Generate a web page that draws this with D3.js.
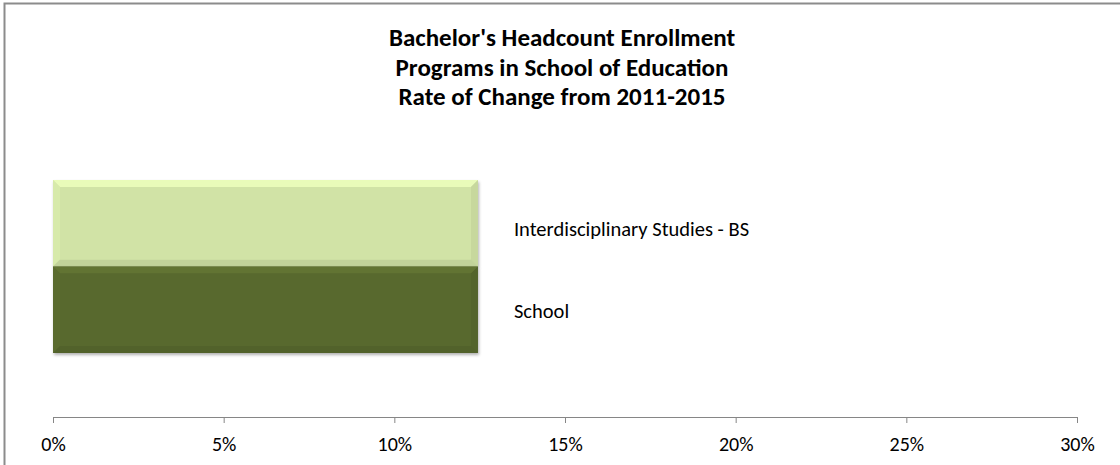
<!DOCTYPE html>
<html><head><meta charset="utf-8">
<script src="https://cdn.jsdelivr.net/npm/d3@7"></script>
<style>body{margin:0;background:#fff}svg{display:block}</style>
</head><body>
<svg id="c" width="1120" height="465"></svg>
<script>
const categories = ["Interdisciplinary Studies - BS", "School"];
const values = [0.1245, 0.1245];
const colors = ["#d1e3a6", "#58692e"];
const tickValues = [0, 0.05, 0.10, 0.15, 0.20, 0.25, 0.30];
const titleLines = ["Bachelor's Headcount Enrollment", "Programs in School of Education", "Rate of Change from 2011-2015"];

const svg = d3.select("#c");
const font = "Carlito, Calibri, 'Open Sans', sans-serif";

svg.append("rect").attr("x", 4.5).attr("y", 3.5).attr("width", 1130).attr("height", 470)
  .attr("fill", "#fff").attr("stroke", "#8c8c8c").attr("stroke-width", 2);

const x = d3.scaleLinear().domain([0, 0.30]).range([53, 1077]);
const y = d3.scaleBand().domain(categories).range([180, 353]).padding(0);

const defs = svg.append("defs");
const f = defs.append("filter").attr("id", "sh").attr("x", "-5%").attr("y", "-10%").attr("width", "110%").attr("height", "130%");
f.append("feDropShadow").attr("dx", 1).attr("dy", 2).attr("stdDeviation", 1.5).attr("flood-color", "#000").attr("flood-opacity", 0.3);

const bars = svg.append("g");
categories.forEach((c, i) => {
  const x0 = x(0), x1 = x(values[i]), y0 = y(c), y1 = y(c) + y.bandwidth();
  const base = d3.color(colors[i]);
  const b = 7;
  const gg = bars.append("g");
  gg.append("rect").attr("x", x0).attr("y", y0).attr("width", x1 - x0).attr("height", y1 - y0)
    .attr("fill", base).attr("filter", "url(#sh)");
  gg.append("path").attr("d", `M${x0},${y0}L${x1},${y0}L${x1-b},${y0+b}L${x0+b},${y0+b}Z`).attr("fill", base.brighter(0.35)).attr("opacity", 0.85);
  gg.append("path").attr("d", `M${x0},${y0}L${x0+b},${y0+b}L${x0+b},${y1-b}L${x0},${y1}Z`).attr("fill", base.brighter(0.12)).attr("opacity", 0.7);
  gg.append("path").attr("d", `M${x1},${y0}L${x1},${y1}L${x1-b},${y1-b}L${x1-b},${y0+b}Z`).attr("fill", base.darker(0.25)).attr("opacity", 0.6);
  gg.append("path").attr("d", `M${x0},${y1}L${x1},${y1}L${x1-b},${y1-b}L${x0+b},${y1-b}Z`).attr("fill", base.darker(0.35)).attr("opacity", 0.6);
  gg.append("rect").attr("x", x0+b).attr("y", y0+b).attr("width", x1 - x0 - 2*b).attr("height", y1 - y0 - 2*b).attr("fill", base);
});

svg.append("g").selectAll("text").data(categories).join("text")
  .attr("x", (d, i) => x(values[i]) + 36)
  .attr("y", (d, i) => y(d) + y.bandwidth() / 2 + (i === 0 ? 13 : 8))
  .attr("font-family", font).attr("font-size", 20.5).attr("fill", "#000")
  .text(d => d);

const axis = d3.axisBottom(x).tickValues(tickValues).tickFormat(d3.format(".0%")).tickSize(6).tickSizeOuter(0).tickPadding(10);
const ax = svg.append("g").attr("transform", "translate(0,417)").call(axis);
ax.select(".domain").attr("stroke", "#868686");
ax.selectAll(".tick line").attr("stroke", "#868686");
ax.selectAll(".tick text").attr("font-family", font).attr("font-size", 20).attr("fill", "#000").attr("dy", null).attr("y", 34);

svg.append("g").selectAll("text").data(titleLines).join("text")
  .attr("x", 562).attr("y", (d, i) => 46 + i * 29.5)
  .attr("text-anchor", "middle").attr("font-family", font).attr("font-weight", "bold").attr("font-size", 25).attr("fill", "#000")
  .text(d => d);
</script>
</body></html>
